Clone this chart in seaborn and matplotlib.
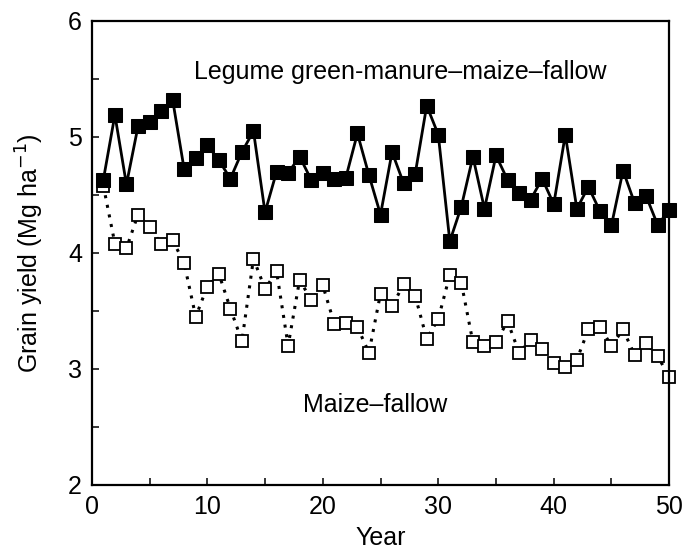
import numpy as np
import pandas as pd
import matplotlib.pyplot as plt
import seaborn as sns
from matplotlib.ticker import MultipleLocator

# anni e rese
years = list(range(1, 51))
legume = [4.63, 5.19, 4.59, 5.09, 5.13, 5.22, 5.32, 4.72, 4.82, 4.93,
          4.80, 4.64, 4.87, 5.05, 4.35, 4.70, 4.69, 4.83, 4.63, 4.69,
          4.64, 4.65, 5.03, 4.67, 4.33, 4.87, 4.60, 4.68, 5.27, 5.02,
          4.10, 4.40, 4.83, 4.38, 4.84, 4.63, 4.52, 4.46, 4.64, 4.42,
          5.02, 4.38, 4.57, 4.36, 4.24, 4.71, 4.43, 4.49, 4.24, 4.37]
maize = [4.58, 4.08, 4.04, 4.33, 4.22, 4.08, 4.11, 3.91, 3.45, 3.71,
         3.82, 3.52, 3.24, 3.95, 3.69, 3.84, 3.20, 3.77, 3.59, 3.72,
         3.39, 3.40, 3.36, 3.14, 3.65, 3.54, 3.73, 3.63, 3.26, 3.43,
         3.81, 3.74, 3.23, 3.20, 3.23, 3.41, 3.14, 3.25, 3.17, 3.05,
         3.02, 3.08, 3.34, 3.36, 3.20, 3.34, 3.12, 3.22, 3.11, 2.93]

df = pd.DataFrame({'Year': years, 'legume': legume, 'maize': maize})

sns.set_style("ticks", {'text.color': 'black', 'axes.labelcolor': 'black',
                        'xtick.color': 'black', 'ytick.color': 'black',
                        'axes.edgecolor': 'black'})
plt.rcParams['font.family'] = ['Liberation Sans', 'DejaVu Sans']

fig = plt.figure(figsize=(6.85, 5.51), dpi=100)
ax = fig.add_axes([0.134, 0.12, 0.843, 0.842])

# maize-fallow: quadrati vuoti, linea a puntini
sns.lineplot(data=df, x='Year', y='maize', ax=ax, color='black',
             linestyle=(0, (1, 2.2)), linewidth=2.2, marker='s',
             markersize=8.5, markerfacecolor='white', markeredgecolor='black',
             markeredgewidth=1.3, zorder=2, clip_on=False)
# legume green-manure: quadrati pieni, linea continua
sns.lineplot(data=df, x='Year', y='legume', ax=ax, color='black',
             linewidth=2.0, marker='s', markersize=9.5,
             markerfacecolor='black', markeredgecolor='black', zorder=3,
             clip_on=False)

ax.set_xlim(0, 50)
ax.set_ylim(2, 6)
ax.xaxis.set_major_locator(MultipleLocator(10))
ax.xaxis.set_minor_locator(MultipleLocator(5))
ax.yaxis.set_major_locator(MultipleLocator(1))
ax.yaxis.set_minor_locator(MultipleLocator(0.5))
ax.tick_params(which='both', direction='in', labelsize=18, width=1.1,
               length=5, pad=7)
for s in ax.spines.values():
    s.set_linewidth(1.6)

ax.set_xlabel('Year', fontsize=18, labelpad=5)
ax.set_ylabel('Grain yield (Mg ha$^{-1}$)', fontsize=18, labelpad=16)

ax.text(26.7, 5.56, 'Legume green-manure\u2013maize\u2013fallow',
        ha='center', va='center', fontsize=18)
ax.text(24.5, 2.69, 'Maize\u2013fallow', ha='center', va='center', fontsize=18)

plt.savefig('out.png', dpi=100)
